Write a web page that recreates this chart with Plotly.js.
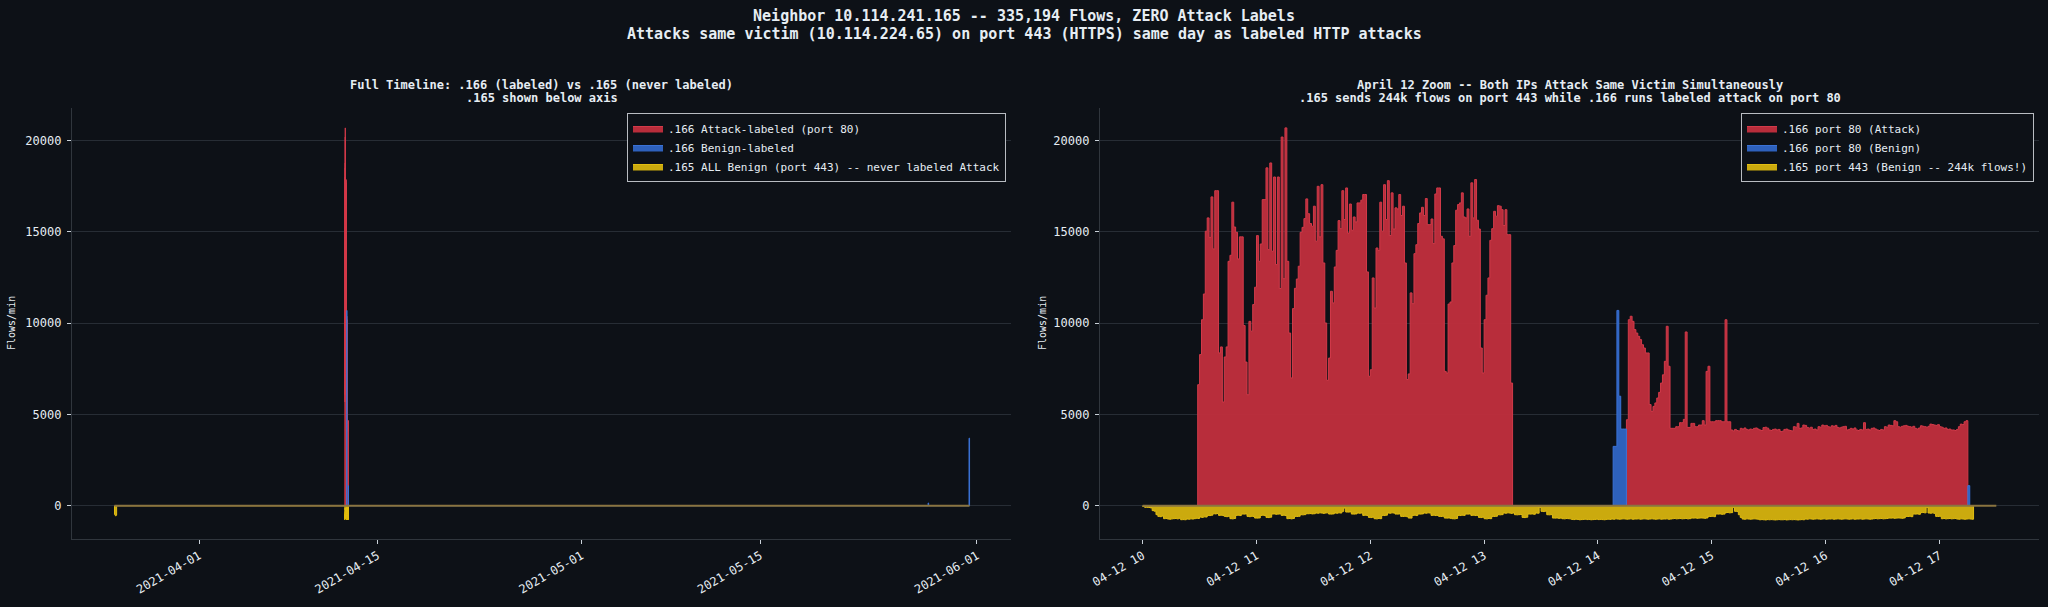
<!DOCTYPE html>
<html>
<head>
<meta charset="utf-8">
<script src="https://cdn.plot.ly/plotly-3.0.1.min.js"></script>
<style>html,body{margin:0;padding:0;background:#0d1117;}</style>
</head>
<body>
<div id="chart" style="width:2048px;height:607px;"></div>
<script>
// ---------------- DATA ----------------
const mainTitleLines = [
  'Neighbor 10.114.241.165 -- 335,194 Flows, ZERO Attack Labels',
  'Attacks same victim (10.114.224.65) on port 443 (HTTPS) same day as labeled HTTP attacks'
];
const leftTitleLines = ['Full Timeline: .166 (labeled) vs .165 (never labeled)', '.165 shown below axis'];
const rightTitleLines = ['April 12 Zoom -- Both IPs Attack Same Victim Simultaneously',
  '.165 sends 244k flows on port 443 while .166 runs labeled attack on port 80'];
const leftLegendNames = ['.166 Attack-labeled (port 80)', '.166 Benign-labeled', '.165 ALL Benign (port 443) -- never labeled Attack'];
const rightLegendNames = ['.166 port 80 (Attack)', '.166 port 80 (Benign)', '.165 port 443 (Benign -- 244k flows!)'];
const yLabel = 'Flows/min';

const yTickVals = [0, 5000, 10000, 15000, 20000];
const yTickText = ['0', '5000', '10000', '15000', '20000'];
const leftTickVals = ['2021-04-01', '2021-04-15', '2021-05-01', '2021-05-15', '2021-06-01'];
const leftTickText = ['2021-04-01', '2021-04-15', '2021-05-01', '2021-05-15', '2021-06-01'];
const rightTickVals = ['2021-04-12 10:00', '2021-04-12 11:00', '2021-04-12 12:00', '2021-04-12 13:00',
  '2021-04-12 14:00', '2021-04-12 15:00', '2021-04-12 16:00', '2021-04-12 17:00'];
const rightTickText = ['04-12 10', '04-12 11', '04-12 12', '04-12 13', '04-12 14', '04-12 15', '04-12 16', '04-12 17'];

// .166 port 80 Attack-labeled flows per minute (first burst starts 10:29)
const attackStart1 = '2021-04-12 10:29';
const attackVals1 = [
 6630, 8280, 10190, 11600, 15040, 15770, 14700, 16920, 14070, 17260,
 17260, 8370, 8700, 5680, 8150, 8700, 13390, 13720, 16630, 15270,
 14980, 13520, 14730, 14730, 9870, 7870, 6080, 10100, 9560, 11020,
 11970, 14800, 13390, 14340, 16770, 16770, 18510, 14030, 18780, 13940,
 18010, 13210, 18010, 11900, 20200, 12440, 20700, 13390, 9460, 7000,
 10800, 11910, 12420, 13120, 14980, 15250, 15730, 16810, 16000, 15460,
 15310, 16410, 14490, 17500, 14730, 17590, 13300, 10010, 6870, 8090,
 11750, 11110, 13080, 13990, 15620, 15180, 17260, 15680, 17410, 14940,
 16530, 15090, 15820, 15550,
 16590, 16590, 16740, 17050, 17050, 12810, 7090, 7450, 12480, 10830,
 14120, 13990, 16630, 15040, 17590, 15680, 17810, 14800, 17140, 15160,
 16320, 16260, 17050, 15900, 16410, 13300, 6910, 7220, 11660, 11070,
 13810, 14300, 15460, 16040, 16350, 15900, 16830, 15400, 15400, 15710,
 14360, 17080, 17410, 17410, 14760, 14620, 7360, 7270, 11050, 11160,
 13300, 14250, 16190, 16500, 16590, 17140, 15820, 15770, 16260, 14760,
 17690, 15770, 17870, 15640, 15160, 8640, 7270, 10190, 11530, 12480,
 14540, 15180, 16130, 15860, 16440, 16410, 16220, 15350, 16220, 14850,
 14850, 6720
];
// second burst starts 14:15
const attackStart2 = '2021-04-12 14:15';
const attackVals2 = [
 4710, 10190, 10380, 10100, 9650, 9460, 9280, 9100, 8820, 8640,
 8370, 8370, 5540, 5170, 5440, 5630, 5900, 6210, 6720, 7170,
 7910, 9830, 7640, 4240, 4240, 4240, 4330, 4330, 4550, 4550,
 4730, 9520, 4290, 4290, 4510, 4510, 4330, 4330, 4420, 4420,
 4660, 4420, 7360, 7640, 4600, 4600, 4600, 4660, 4660, 4660,
 4600, 4600, 10190, 4600,
 4600, 4150, 4100, 4180, 4120, 4100, 4240, 4200, 4260, 4180,
 4150, 4200, 4180, 4240, 4260, 4200, 4150, 4120, 4280, 4300,
 4250, 4150, 4120, 4180, 4200, 4150, 4180, 4060, 4080, 4180,
 4200, 4150, 4120, 4100, 4330, 4300, 4510, 4240, 4260, 4420,
 4400, 4290, 4250, 4300, 4180, 4200, 4150, 4330, 4300, 4420,
 4380, 4400, 4330, 4300, 4380, 4350, 4400, 4290, 4260, 4300,
 4330, 4350, 4150, 4180, 4240, 4200, 4260, 4150, 4120, 4180,
 4150, 4550, 4180, 4200, 4150, 4240, 4260, 4200, 4150, 4120,
 4180, 4150, 4330, 4300, 4420, 4400, 4380, 4660, 4600, 4330,
 4300, 4350, 4380, 4400, 4350, 4330, 4300, 4350, 4240, 4200,
 4260, 4380, 4350, 4330, 4300, 4350, 4470, 4450, 4420, 4400,
 4440, 4330, 4300, 4240, 4260, 4180, 4200, 4150, 4150, 4120,
 4180, 4330, 4470, 4450, 4600, 4660
];
// .166 port 80 Benign-labeled flows per minute
const benignStart1 = '2021-04-12 14:08';
const benignVals1 = [3250, 3250, 10700, 6000, 4200, 4200, 4200];
const benignStart2 = '2021-04-12 17:15';
const benignVals2 = [1100];
// other benign-labeled .166 activity on the full timeline
const lateBenignTimes = ['2021-05-28 04:00', '2021-05-31 09:00'];
const lateBenignVals = [150, 3700];

// .165 port 443 flows per minute (drawn negative, below axis), from 10:00
const port443Start = '2021-04-12 10:00';
const port443Vals = [
 -40, -90, -90, -100, -120, -270, -300, -490, -585, -600,
 -570, -710, -700, -730, -740, -720, -710, -700, -720, -690,
 -767, -760, -770, -730, -740, -720, -730, -710, -690, -700,
 -620, -640, -610, -620, -530, -540, -520, -440, -450, -430,
 -530, -520, -540, -585, -600, -580, -710, -720, -700, -530,
 -520, -540, -457, -460, -450, -585, -600, -580, -590, -676,
 -680, -670, -530, -520, -540, -640, -650, -630, -457, -450,
 -470, -460, -450, -530, -520, -540, -710, -700, -720, -700,
 -585, -590, -580, -493, -500, -490, -438, -440, -430, -450,
 -440, -400, -410, -390, -400, -420, -400, -390, -457, -460,
 -450, -400, -410, -390, -400, -310, -130, -347, -350, -340,
 -457, -460, -450, -400, -410, -400, -530, -520, -540, -640,
 -650, -630, -713, -720, -700, -710, -530, -540, -520, -400,
 -410, -390, -400, -457, -460, -450, -585, -590, -580, -600,
 -676, -680, -530, -520, -540, -457, -460, -450, -400, -410,
 -390, -400, -530, -520, -540, -530, -585, -590, -580, -676,
 -680, -670, -690, -713, -720, -700, -530, -540, -520, -530,
 -457, -460, -450, -530, -520, -540, -530, -640, -650, -630,
 -713, -720, -700, -710, -585, -590, -580, -493, -500, -490,
 -400, -410, -390, -400, -420, -400, -493, -500, -490, -480,
 -640, -650, -630, -457, -460, -450, -470, -400, -410, -90,
 -310, -320, -300, -493, -500, -490, -676, -680, -670, -690,
 -680, -713, -720, -700, -710, -720, -750, -760, -740, -750,
 -770, -760, -750, -740, -760, -750, -770, -760, -750, -740,
 -760, -750, -760, -770, -750, -740, -750, -730, -740, -720,
 -730, -740, -730, -720, -730, -740, -730, -720, -740, -730,
 -730, -720, -740, -730, -720, -730, -740, -730, -720, -730,
 -740, -730, -720, -740, -730, -730, -720, -740, -730, -713,
 -700, -720, -710, -700, -720, -710, -700, -720, -710, -676,
 -680, -670, -690, -680, -670, -680, -690, -670, -585, -590,
 -580, -600, -457, -460, -450, -470, -460, -380, -370, -390,
 -380, -90, -310, -320, -493, -640, -731, -740, -720, -730,
 -740, -730, -720, -730, -740, -770, -760, -770, -780, -760,
 -770, -760, -770, -780, -770, -760, -770, -770, -760, -780,
 -770, -760, -770, -760, -770, -780, -770, -760, -770, -730,
 -740, -720, -730, -740, -730, -720, -730, -740, -730, -720,
 -740, -730, -730, -720, -740, -730, -720, -730, -740, -730,
 -720, -730, -740, -730, -720, -740, -730, -730, -720, -740,
 -730, -720, -730, -740, -730, -713, -700, -720, -710, -700,
 -720, -710, -700, -676, -680, -670, -690, -680, -670, -680,
 -690, -670, -585, -590, -580, -600, -457, -460, -450, -470,
 -380, -370, -390, -90, -400, -410, -390, -420, -585, -590,
 -580, -713, -700, -720, -710, -700, -720, -710, -700, -731,
 -740, -720, -730, -740, -730, -720, -730, -740
];
// early .165 burst on the full timeline
const marchBurstTimes = ['2021-03-25 09:00', '2021-03-25 10:30', '2021-03-25 12:00'];
const marchBurstVals = [-480, -550, -520];
const marchBurstEnd = '2021-03-25 13:00';

// extents of the plotted series (zero baseline spans)
const leftSeriesSpan = ['2021-03-25 09:00', '2021-05-31 10:00'];
const rightSeriesSpan = ['2021-04-12 10:00', '2021-04-12 17:30'];

// ---------------- HELPERS ----------------
function addMinutes(s, m) {
  const iso = s.replace(' ', 'T') + (s.length === 16 ? ':00Z' : 'Z');
  const d = new Date(Date.parse(iso) + m * 60000);
  return d.toISOString().slice(0, 19).replace('T', ' ');
}
function minuteSeg(start, vals) {
  const times = vals.map((v, i) => addMinutes(start, i));
  return stepSeg(times, vals, addMinutes(start, vals.length));
}
function stepSeg(times, vals, end) {
  return { x: [times[0]].concat(times, [end]), y: [0].concat(vals, [0]) };
}
function joinSegs(segs) {
  const out = { x: [], y: [] };
  segs.forEach(s => { out.x = out.x.concat(s.x); out.y = out.y.concat(s.y); });
  return out;
}

// ---------------- STYLE ----------------
const FONT = 'DejaVu Sans Mono, monospace';
const BG = '#0d1117';
const TXT = '#e6edf3';
const RED_FILL = 'rgba(190,46,61,0.97)', RED_LINE = '#d23a49';
const BLUE_FILL = 'rgba(47,100,194,0.97)', BLUE_LINE = '#3a72d6';
const YEL_FILL = 'rgba(210,175,14,0.97)', YEL_LINE = '#e2bd12';
const BASE_LINE = '#8a7440';

const atk = joinSegs([minuteSeg(attackStart1, attackVals1), minuteSeg(attackStart2, attackVals2)]);
const ben = joinSegs([minuteSeg(benignStart1, benignVals1), minuteSeg(benignStart2, benignVals2)]);
const lateBen = joinSegs(lateBenignTimes.map((t, i) => stepSeg([t], [lateBenignVals[i]], addMinutes(t, 60))));
const benLeft = joinSegs([ben, lateBen]);
const yel = minuteSeg(port443Start, port443Vals);
const yelLeft = joinSegs([stepSeg(marchBurstTimes, marchBurstVals, marchBurstEnd), yel]);

function area(seg, name, fill, line, xa, ya, legend, showlegend) {
  return { type: 'scatter', mode: 'lines', x: seg.x, y: seg.y, name: name,
    line: { shape: 'hv', width: 1, color: line }, fill: 'tozeroy', fillcolor: fill,
    xaxis: xa, yaxis: ya, legend: legend, showlegend: showlegend, hoverinfo: 'skip' };
}

const traces = [
  area(atk, leftLegendNames[0], RED_FILL, RED_LINE, 'x', 'y', 'legend', true),
  area(benLeft, leftLegendNames[1], BLUE_FILL, BLUE_LINE, 'x', 'y', 'legend', true),
  area(yelLeft, leftLegendNames[2], YEL_FILL, YEL_LINE, 'x', 'y', 'legend', true),
  { type: 'scatter', mode: 'lines', x: leftSeriesSpan, y: [0, 0], line: { color: BASE_LINE, width: 2 },
    xaxis: 'x', yaxis: 'y', showlegend: false, hoverinfo: 'skip' },
  area(atk, rightLegendNames[0], RED_FILL, RED_LINE, 'x2', 'y2', 'legend2', true),
  area(ben, rightLegendNames[1], BLUE_FILL, BLUE_LINE, 'x2', 'y2', 'legend2', true),
  area(yel, rightLegendNames[2], YEL_FILL, YEL_LINE, 'x2', 'y2', 'legend2', true),
  { type: 'scatter', mode: 'lines', x: rightSeriesSpan, y: [0, 0], line: { color: BASE_LINE, width: 2 },
    xaxis: 'x2', yaxis: 'y2', showlegend: false, hoverinfo: 'skip' }
];

const W = 2048, H = 607;
const px = v => v / W, py = v => (H - v) / H;
const yRange = [-1824, 21790];

function xAxis(domain, range, tv, tt, anchor) {
  return { type: 'date', domain: domain, range: range, tickvals: tv, ticktext: tt, tickangle: -30,
    ticks: 'outside', ticklen: 4, tickwidth: 1, tickcolor: '#c9d1d9', showgrid: false,
    showline: true, linecolor: '#30363d', linewidth: 1.2, zeroline: false, anchor: anchor,
    tickfont: { family: FONT, size: 12, color: TXT }, fixedrange: true };
}
function yAxis(anchor) {
  return { domain: [py(539), py(108)], range: yRange, tickvals: yTickVals, ticktext: yTickText,
    ticks: 'outside', ticklen: 4, tickwidth: 1, tickcolor: '#c9d1d9', showgrid: true,
    gridcolor: '#272d35', gridwidth: 1, showline: true, linecolor: '#30363d', linewidth: 1.2,
    zeroline: false, anchor: anchor, ticklabelstandoff: 3,
    tickfont: { family: FONT, size: 12, color: TXT }, fixedrange: true };
}
function legendBox(xr) {
  return { x: px(xr), xanchor: 'right', y: py(113), yanchor: 'top', bgcolor: BG,
    bordercolor: '#b8bcc2', borderwidth: 1, font: { family: FONT, size: 11, color: TXT },
    tracegroupgap: 0, itemwidth: 30 };
}
function ann(text, x, y, size, bold, extra) {
  return Object.assign({ text: bold ? '<b>' + text + '</b>' : text, x: x, y: y, xref: 'paper', yref: 'paper',
    showarrow: false, xanchor: 'center', yanchor: 'middle', font: { family: FONT, size: size, color: TXT } }, extra || {});
}

const layout = {
  width: W, height: H, paper_bgcolor: BG, plot_bgcolor: BG,
  margin: { l: 0, r: 0, t: 0, b: 0 },
  font: { family: FONT, color: TXT, size: 12 },
  title: { text: '<b>' + mainTitleLines[0] + '</b>',
    font: { family: FONT, size: 15, color: TXT }, x: 0.5, xanchor: 'center',
    yref: 'container', y: 1 - 16 / H, yanchor: 'middle' },
  xaxis: xAxis([px(72), px(1011)], ['2021-03-22 01:00:00', '2021-06-03 16:00:00'], leftTickVals, leftTickText, 'y'),
  yaxis: yAxis('x'),
  xaxis2: xAxis([px(1100), px(2039)], ['2021-04-12 09:37:30', '2021-04-12 17:52:30'], rightTickVals, rightTickText, 'y2'),
  yaxis2: yAxis('x2'),
  legend: legendBox(1006),
  legend2: legendBox(2034),
  annotations: [
    ann(mainTitleLines[1], 0.5, py(34), 15, true),
    ann(leftTitleLines[0], px(541.5), py(85), 12, true),
    ann(leftTitleLines[1], px(541.5), py(98), 12, true),
    ann(rightTitleLines[0], px(1569.5), py(85), 12, true),
    ann(rightTitleLines[1], px(1569.5), py(98), 12, true),
    ann(yLabel, px(11), py(323), 10, false, { textangle: -90 }),
    ann(yLabel, px(1042), py(323), 10, false, { textangle: -90 })
  ]
};

Plotly.newPlot('chart', traces, layout, { displayModeBar: false, staticPlot: true });
</script>
</body>
</html>
